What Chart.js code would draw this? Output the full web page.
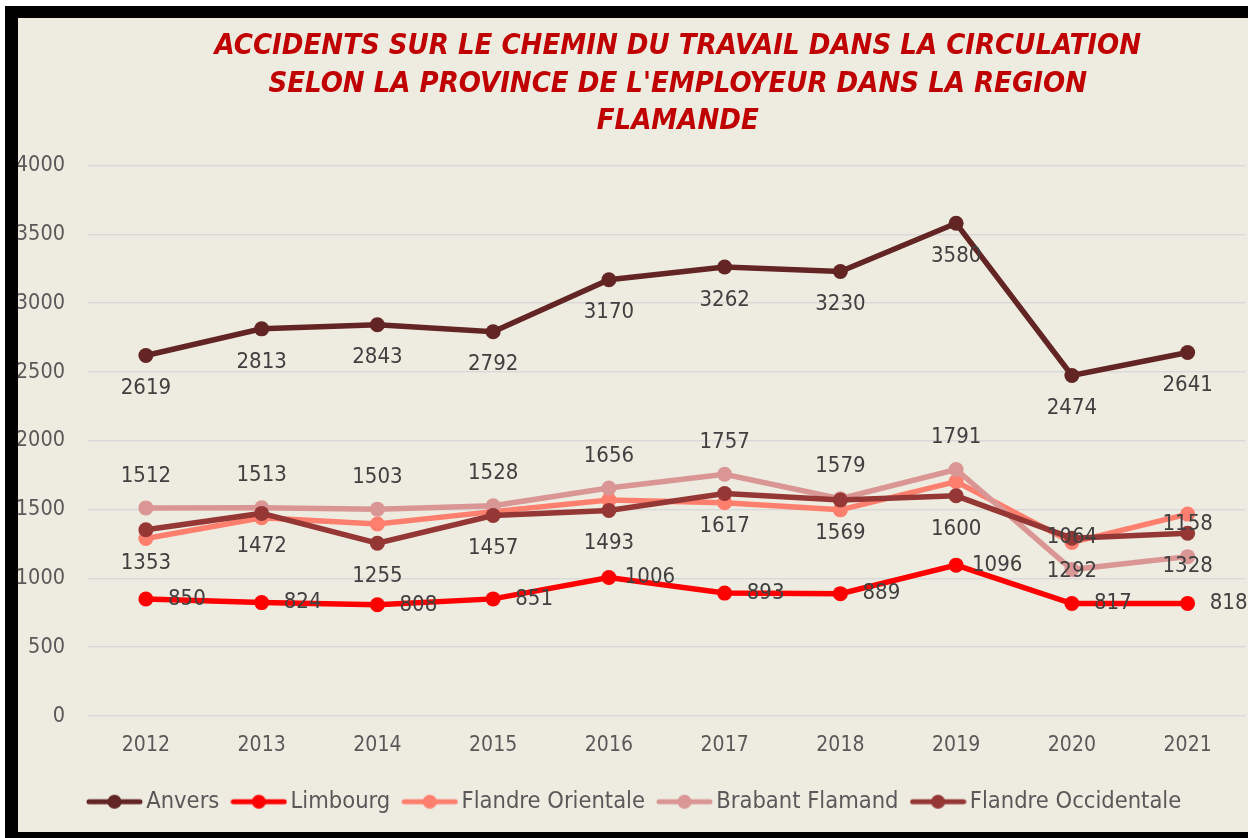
<!DOCTYPE html>
<html lang="fr">
<head>
<meta charset="UTF-8">
<title>Accidents sur le chemin du travail</title>
<script src="https://cdn.jsdelivr.net/npm/chart.js"></script>
<style>
  html, body {
    margin: 0;
    padding: 0;
    background: #ffffff;
    overflow: hidden;
    width: 1248px;
    height: 838px;
  }
  .bg {
    position: absolute;
    left: 18px;
    top: 18px;
    width: 1300px;
    height: 820px;
    background: #EEECE1;
  }
  .wrap {
    position: absolute;
    left: 0;
    top: 0;
    width: 1253px;
    height: 838px;
  }
  .frame {
    position: absolute;
    left: 5px;
    top: 6px;
    width: 1300px;
    height: 814px;
    border-left: 13px solid #000;
    border-top: 12px solid #000;
    border-bottom: 6px solid #000;
    pointer-events: none;
  }
</style>
</head>
<body>
<div class="bg"></div>
<div class="wrap"><canvas id="chart"></canvas></div>
<div class="frame"></div>
<script>
// data
const years = ['2012', '2013', '2014', '2015', '2016', '2017', '2018', '2019', '2020', '2021'];
const anvers = [2619, 2813, 2843, 2792, 3170, 3262, 3230, 3580, 2474, 2641];
const limbourg = [850, 824, 808, 851, 1006, 893, 889, 1096, 817, 818];
const flandreOrientale = [1290, 1440, 1395, 1485, 1570, 1550, 1498, 1703, 1261, 1467]; // no labels in source, estimated
const brabantFlamand = [1512, 1513, 1503, 1528, 1656, 1757, 1579, 1791, 1064, 1158];
const flandreOccidentale = [1353, 1472, 1255, 1457, 1493, 1617, 1569, 1600, 1292, 1328];
const yMin = 0, yMax = 4000, yStep = 500;

const titleLines = [
  'ACCIDENTS SUR LE CHEMIN DU TRAVAIL DANS LA CIRCULATION',
  "SELON LA PROVINCE DE L'EMPLOYEUR DANS LA REGION",
  'FLAMANDE'
];

const FONT = '"DejaVu Sans Condensed", "DejaVu Sans", sans-serif';

// legend marker: line with a dot in the middle
function legendMarker(color) {
  const c = document.createElement('canvas');
  c.width = 57;
  c.height = 16;
  const x = c.getContext('2d');
  x.strokeStyle = color;
  x.lineWidth = 5;
  x.lineCap = 'round';
  x.beginPath();
  x.moveTo(3, 8);
  x.lineTo(54, 8);
  x.stroke();
  x.fillStyle = color;
  x.beginPath();
  x.arc(28.5, 8, 7, 0, Math.PI * 2);
  x.fill();
  return c;
}

function series(label, data, color, pos, order) {
  return {
    label: label,
    data: data,
    borderColor: color,
    backgroundColor: color,
    borderWidth: 5.5,
    pointRadius: 7.5,
    pointHoverRadius: 7.5,
    pointBorderWidth: 0,
    tension: 0,
    order: order,
    labelPos: pos
  };
}

// value labels next to the points
const valueLabels = {
  id: 'valueLabels',
  afterDatasetsDraw(chart) {
    const ctx = chart.ctx;
    ctx.save();
    ctx.font = '22px ' + FONT;
    ctx.fillStyle = '#404040';
    ctx.textBaseline = 'middle';
    ctx.textAlign = 'center';
    chart.data.datasets.forEach((ds, i) => {
      if (!ds.labelPos) return;
      const meta = chart.getDatasetMeta(i);
      meta.data.forEach((pt, j) => {
        let x = pt.x, y = pt.y;
        if (ds.labelPos === 'below') y += 33;
        if (ds.labelPos === 'above') y -= 32;
        if (ds.labelPos === 'right') x += 41;
        ctx.fillText(String(ds.data[j]), x, y);
      });
    });
    ctx.restore();
  }
};

// nudge title and legend boxes to where the original has them
const nudge = {
  id: 'nudge',
  afterLayout(chart) {
    chart.legend.left = 75;
    chart.titleBlock.left += 11;
    chart.titleBlock.right += 11;
  }
};

new Chart(document.getElementById('chart'), {
  type: 'line',
  data: {
    labels: years,
    datasets: [
      series('Anvers', anvers, '#632523', 'below', 5),
      series('Limbourg', limbourg, '#FF0000', 'right', 4),
      series('Flandre Orientale', flandreOrientale, '#FF7F6E', null, 3),
      series('Brabant Flamand', brabantFlamand, '#DA9694', 'above', 2),
      series('Flandre Occidentale', flandreOccidentale, '#953735', 'below', 1)
    ]
  },
  options: {
    responsive: true,
    maintainAspectRatio: false,
    animation: false,
    layout: {
      padding: { left: 0, right: 0, top: 0, bottom: 14.5 }
    },
    plugins: {
      title: {
        display: true,
        fullSize: false,
        text: titleLines,
        color: '#C00000',
        font: { family: FONT, size: 29, weight: 'bold', style: 'italic', lineHeight: 1.293 },
        padding: { top: 28, bottom: 25 }
      },
      legend: {
        position: 'bottom',
        align: 'start',
        labels: {
          usePointStyle: true,
          pointStyleWidth: 40,
          padding: 19.5,
          color: '#595959',
          font: { family: FONT, size: 23.5 },
          sort: (a, b) => a.datasetIndex - b.datasetIndex,
          generateLabels(chart) {
            const items = Chart.defaults.plugins.legend.labels.generateLabels(chart);
            items.forEach(it => {
              it.pointStyle = legendMarker(chart.data.datasets[it.datasetIndex].borderColor);
            });
            return items;
          }
        }
      },
      tooltip: { enabled: false }
    },
    scales: {
      x: {
        offset: true,
        grid: { display: false },
        border: { display: false },
        ticks: {
          color: '#595959',
          padding: 9,
          font: { family: FONT, size: 21 }
        },
        afterFit(scale) { scale.height = 54.5; }
      },
      y: {
        min: yMin,
        max: yMax,
        ticks: {
          stepSize: yStep,
          color: '#595959',
          padding: 23,
          font: { family: FONT, size: 21.5 },
          callback: v => String(v)
        },
        grid: { color: '#D9D9D9', lineWidth: 1.5, drawTicks: false },
        border: { display: false },
        afterFit(scale) { scale.width = 88; }
      }
    }
  },
  plugins: [valueLabels, nudge]
});
</script>
</body>
</html>
